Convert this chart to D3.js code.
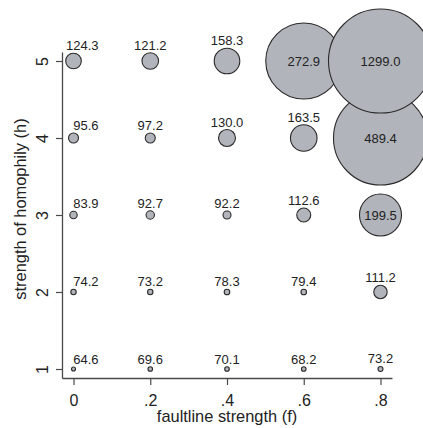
<!DOCTYPE html>
<html>
<head>
<meta charset="utf-8">
<script src="https://cdn.jsdelivr.net/npm/d3@7"></script>
<style>
  html, body { margin: 0; padding: 0; background: #fff; }
  svg { display: block; font-family: "Liberation Sans", Arial, Helvetica, sans-serif; }
</style>
</head>
<body>
<svg id="chart" width="423" height="428"></svg>
<script>
// Faultline strength (f) levels and their axis labels
const faultline = [0, 0.2, 0.4, 0.6, 0.8];
const xTickLabels = ["0", ".2", ".4", ".6", ".8"];

// Homophily strength (h) levels
const homophily = [1, 2, 3, 4, 5];
const yTickLabels = ["1", "2", "3", "4", "5"];

// Outcome value for each (f, h) cell; one array per faultline level, h = 1..5
const valueF00 = [64.6, 74.2, 83.9, 95.6, 124.3];
const valueF02 = [69.6, 73.2, 92.7, 97.2, 121.2];
const valueF04 = [70.1, 78.3, 92.2, 130.0, 158.3];
const valueF06 = [68.2, 79.4, 112.6, 163.5, 272.9];
const valueF08 = [73.2, 111.2, 199.5, 489.4, 1299.0];

// Analytic weight of each cell (marker area is proportional to it), h = 1..5
const weightF00 = [4, 7.3, 13.7, 25, 61];
const weightF02 = [5.3, 7.3, 17.6, 25, 69];
const weightF04 = [5.3, 7.8, 16, 72, 164];
const weightF06 = [5.3, 7.8, 49, 177, 1444];
const weightF08 = [6.25, 45, 441, 2209, 2704];

const values = [valueF00, valueF02, valueF04, valueF06, valueF08];
const weights = [weightF00, weightF02, weightF04, weightF06, weightF08];

const cells = [];
faultline.forEach((f, i) => {
  homophily.forEach((h, j) => {
    cells.push({ f, h, col: i, value: values[i][j], weight: weights[i][j] });
  });
});

const svg = d3.select("#chart");

const x = d3.scaleLinear().domain([-0.03, 0.83]).range([62, 392]);
const y = d3.scaleLinear().domain([0.883, 5.117]).range([378, 52]);
const r = d3.scaleSqrt().domain([0, 2704]).range([0, 52]);

const axisColor = "#4a4a4a";
const textColor = "#222";

// x axis
const gx = svg.append("g")
  .attr("transform", `translate(0,${y.range()[0]})`)
  .call(d3.axisBottom(x)
    .tickValues(faultline)
    .tickFormat((d, i) => xTickLabels[i])
    .tickSize(7)
    .tickSizeOuter(0));
gx.select(".domain").attr("stroke", axisColor).attr("stroke-width", 1.3);
gx.selectAll(".tick line").attr("stroke", axisColor).attr("stroke-width", 1.2);
gx.selectAll(".tick text")
  .attr("y", 27.5).attr("dy", null)
  .attr("fill", textColor)
  .style("font-size", "16px");

// y axis, labels turned to read bottom-to-top
const gy = svg.append("g")
  .attr("transform", `translate(${x.range()[0]},0)`)
  .call(d3.axisLeft(y)
    .tickValues(homophily)
    .tickFormat((d, i) => yTickLabels[i])
    .tickSize(6)
    .tickSizeOuter(0));
gy.select(".domain").attr("stroke", axisColor).attr("stroke-width", 1.3);
gy.selectAll(".tick line").attr("stroke", axisColor).attr("stroke-width", 1.2);
gy.selectAll(".tick text")
  .attr("transform", "rotate(-90)")
  .attr("x", 0).attr("y", -13.7).attr("dy", null)
  .attr("text-anchor", "middle")
  .attr("fill", textColor)
  .style("font-size", "16px");

// axis titles
svg.append("text")
  .attr("x", (x(0) + x(0.8)) / 2)
  .attr("y", 422)
  .attr("text-anchor", "middle")
  .attr("fill", textColor)
  .style("font-size", "16.4px")
  .text("faultline strength (f)");

svg.append("text")
  .attr("transform", `translate(26,${209}) rotate(-90)`)
  .attr("text-anchor", "middle")
  .attr("fill", textColor)
  .style("font-size", "16.4px")
  .text("strength of homophily (h)");

// weighted markers
svg.append("g")
  .selectAll("circle")
  .data(cells)
  .join("circle")
  .attr("cx", d => x(d.f))
  .attr("cy", d => y(d.h))
  .attr("r", d => r(d.weight))
  .attr("fill", "#b1b4ba")
  .attr("stroke", "#2a2a2a")
  .attr("stroke-width", 1.1);

// value labels: inside large markers, above small ones
const fmt = d3.format(".1f");
svg.append("g")
  .selectAll("text")
  .data(cells)
  .join("text")
  .attr("fill", textColor)
  .style("font-size", "13px")
  .each(function (d) {
    const t = d3.select(this);
    const rad = r(d.weight);
    const cx = x(d.f), cy = y(d.h);
    if (rad > 18) {
      t.attr("x", cx).attr("y", cy).attr("dy", "0.35em").attr("text-anchor", "middle");
    } else if (d.col === 0) {
      t.attr("x", cx + 25).attr("y", cy - rad - 3).attr("text-anchor", "end");
    } else {
      t.attr("x", cx).attr("y", cy - rad - 3).attr("text-anchor", "middle");
    }
  })
  .text(d => fmt(d.value));
</script>
</body>
</html>
